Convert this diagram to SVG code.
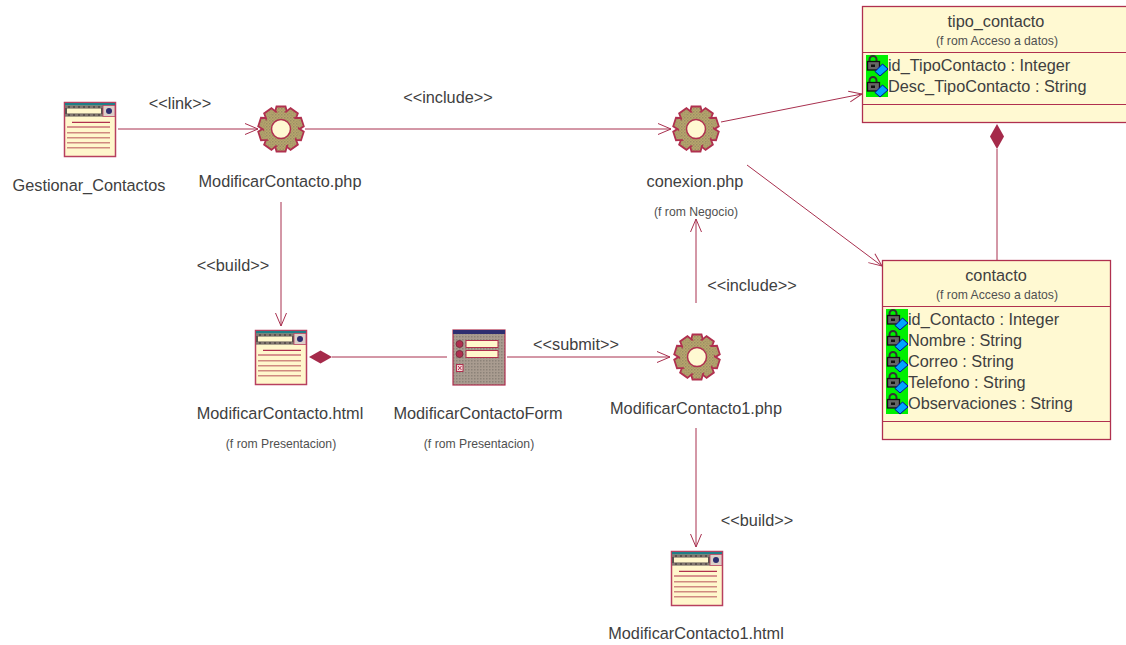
<svg xmlns="http://www.w3.org/2000/svg" width="1126" height="645" viewBox="0 0 1126 645">
<style>
text{font-family:"Liberation Sans",Arial,sans-serif;fill:#404040;font-size:16.3px}
.m{text-anchor:middle}
.s{font-size:12.2px;fill:#505050}
.c{stroke:#a8304f;stroke-width:1;fill:none}
.box{fill:#fff9d2;stroke:#b0304f;stroke-width:1.3}
.d{stroke:#b0304f;stroke-width:1;fill:none}
.dia{fill:#a52a4a;stroke:none}
</style>
<defs>
<marker id="a" markerWidth="16" markerHeight="14" refX="14" refY="7" orient="auto" markerUnits="userSpaceOnUse"><path d="M1,1.500L14,7L1,12.500" fill="none" stroke="#a8304f" stroke-width="1"/></marker>
<pattern id="ol" width="3" height="3" patternUnits="userSpaceOnUse"><rect width="3" height="3" fill="#b8a66f"/><rect width="1.500" height="1.500" fill="#9a8e62"/><rect x="1.500" y="1.500" width="1.500" height="1.500" fill="#a89a64"/></pattern>
<pattern id="gr" width="3" height="3" patternUnits="userSpaceOnUse"><rect width="3" height="3" fill="#a99c90"/><rect width="1.500" height="1.500" fill="#8c8278"/></pattern>
<polygon id="tooth" points="-6.500,-15 -4.500,-22.500 4.500,-22.500 6.500,-15" fill="url(#ol)" stroke="#b0304f" stroke-width="1.800"/>
<g id="gear">
<circle r="17.500" fill="url(#ol)" stroke="#b0304f" stroke-width="1.800"/>
<use href="#tooth"/><use href="#tooth" transform="rotate(36)"/><use href="#tooth" transform="rotate(72)"/><use href="#tooth" transform="rotate(108)"/><use href="#tooth" transform="rotate(144)"/><use href="#tooth" transform="rotate(180)"/><use href="#tooth" transform="rotate(216)"/><use href="#tooth" transform="rotate(252)"/><use href="#tooth" transform="rotate(288)"/><use href="#tooth" transform="rotate(324)"/>
<circle r="17" fill="url(#ol)"/>
<circle r="9.500" fill="#fff9d2" stroke="#b0304f" stroke-width="1.500"/>
</g>
<g id="page">
<rect x="0.500" y="0.500" width="51" height="54" fill="#fff7cc" stroke="#b8405f" stroke-width="1.500"/>
<rect x="1" y="1" width="50" height="2.500" fill="#1f7f88"/>
<rect x="1" y="3.500" width="38" height="11" fill="#5a5250"/>
<path d="M1 5H39M1 13H39" stroke="#a89a90" stroke-width="1" stroke-dasharray="3 2"/>
<rect x="3" y="6.500" width="34" height="5" fill="#fff7cc"/>
<rect x="39" y="3.500" width="12" height="11" fill="#dccfc8" stroke="#b8405f" stroke-width="0.800"/>
<circle cx="45" cy="9" r="3" fill="#2e2e70"/>
<path d="M8 20.300H46M3 25H46" stroke="#b0304f" stroke-width="1.200"/>
<path d="M3 30.700H46M3 35.700H46M3 40.700H46M3 45.700H46" stroke="#cf8a80" stroke-width="1.600"/>
</g>
<g id="attr">
<rect x="0" y="0" width="22" height="21" fill="#00f000"/>
<path d="M3.500 7V4.500a3.500 3.500 0 0 1 7 0V7" fill="none" stroke="#333" stroke-width="2"/>
<rect x="1.500" y="6.500" width="12" height="8.500" fill="#666" stroke="#111" stroke-width="1.300"/>
<rect x="5" y="9.500" width="4" height="2.500" fill="#111"/>
<polygon points="9,16.500 16.500,9 22,14 14,21" fill="#00a4ff" stroke="#0000a0"/>
</g>
</defs>
<g id="connectors">
<path class="c" marker-end="url(#a)" d="M118 129H258"/>
<path class="c" marker-end="url(#a)" d="M305 129H671"/>
<path class="c" marker-end="url(#a)" d="M721 122L862 94"/>
<path class="c" marker-end="url(#a)" d="M747 165L882 266"/>
<path class="c" d="M997 149V260"/>
<polygon class="dia" points="997,124 1004,136.500 997,149 990,136.500"/>
<path class="c" marker-end="url(#a)" d="M281 202V326"/>
<path class="c" d="M332 357H447"/>
<polygon class="dia" points="309,357 320.500,350.500 332,357 320.500,363.500"/>
<path class="c" marker-end="url(#a)" d="M507 357H670"/>
<path class="c" marker-end="url(#a)" d="M696 303V219"/>
<path class="c" marker-end="url(#a)" d="M696 428V547"/>
<text x="180" y="109" class="m">&lt;&lt;link&gt;&gt;</text>
<text x="448" y="103" class="m">&lt;&lt;include&gt;&gt;</text>
<text x="233" y="271" class="m">&lt;&lt;build&gt;&gt;</text>
<text x="576" y="350" class="m">&lt;&lt;submit&gt;&gt;</text>
<text x="752" y="291" class="m">&lt;&lt;include&gt;&gt;</text>
<text x="757" y="526" class="m">&lt;&lt;build&gt;&gt;</text>
</g>
<g id="Gestionar_Contactos"><use href="#page" x="64" y="102"/><text x="89" y="191" class="m">Gestionar_Contactos</text></g>
<g id="ModificarContacto_php"><use href="#gear" x="281" y="129"/><text x="280" y="187" class="m">ModificarContacto.php</text></g>
<g id="conexion_php"><use href="#gear" x="696" y="129"/><text x="695" y="187" class="m">conexion.php</text><text x="696" y="216" class="m s">(f rom Negocio)</text></g>
<g id="ModificarContacto_html"><use href="#page" x="255" y="330"/><text x="280" y="419" class="m">ModificarContacto.html</text><text x="281" y="448" class="m s">(f rom Presentacion)</text></g>
<g id="ModificarContactoForm">
<rect x="453" y="330" width="52" height="55" fill="url(#gr)" stroke="#b0304f" stroke-width="1.200"/>
<rect x="453" y="330" width="52" height="4" fill="#2e2e70"/>
<circle cx="459.500" cy="344" r="3.500" fill="#b0304f" stroke="#7a3040"/>
<circle cx="459.500" cy="354" r="3.500" fill="#b0304f" stroke="#7a3040"/>
<rect x="466" y="340.500" width="32" height="7" fill="#fff7cc" stroke="#b0304f"/>
<rect x="466" y="350.500" width="32" height="7" fill="#fff7cc" stroke="#b0304f"/>
<rect x="456.500" y="364.500" width="6.500" height="7" fill="#f4d8d8" stroke="#b0304f"/>
<path d="M458 366L461.500 370M461.500 366L458 370" stroke="#b0304f" stroke-width="1"/>
<text x="478" y="419" class="m">ModificarContactoForm</text><text x="479" y="448" class="m s">(f rom Presentacion)</text></g>
<g id="ModificarContacto1_php"><use href="#gear" x="697" y="357"/><text x="696" y="414" class="m">ModificarContacto1.php</text></g>
<g id="ModificarContacto1_html"><use href="#page" x="671" y="551"/><text x="696" y="639" class="m">ModificarContacto1.html</text></g>
<g id="tipo_contacto">
<rect class="box" x="862.500" y="6.500" width="270" height="116"/>
<path class="d" d="M862 52.500H1126M862 104.500H1126"/>
<text x="996" y="27" class="m">tipo_contacto</text>
<text x="997" y="45" class="m s">(f rom Acceso a datos)</text>
<use href="#attr" x="866" y="55"/><use href="#attr" x="866" y="76"/>
<text x="888" y="71">id_TipoContacto : Integer</text>
<text x="888" y="92">Desc_TipoContacto : String</text>
</g>
<g id="contacto">
<rect class="box" x="882.500" y="260.500" width="228" height="179"/>
<path class="d" d="M882 306.500H1110M882 421.500H1110"/>
<text x="996" y="281" class="m">contacto</text>
<text x="997" y="299" class="m s">(f rom Acceso a datos)</text>
<use href="#attr" x="886" y="309"/><use href="#attr" x="886" y="330"/><use href="#attr" x="886" y="351"/><use href="#attr" x="886" y="372"/><use href="#attr" x="886" y="393"/>
<text x="908" y="325">id_Contacto : Integer</text>
<text x="908" y="346">Nombre : String</text>
<text x="908" y="367">Correo : String</text>
<text x="908" y="388">Telefono : String</text>
<text x="908" y="409">Observaciones : String</text>
</g>
</svg>
